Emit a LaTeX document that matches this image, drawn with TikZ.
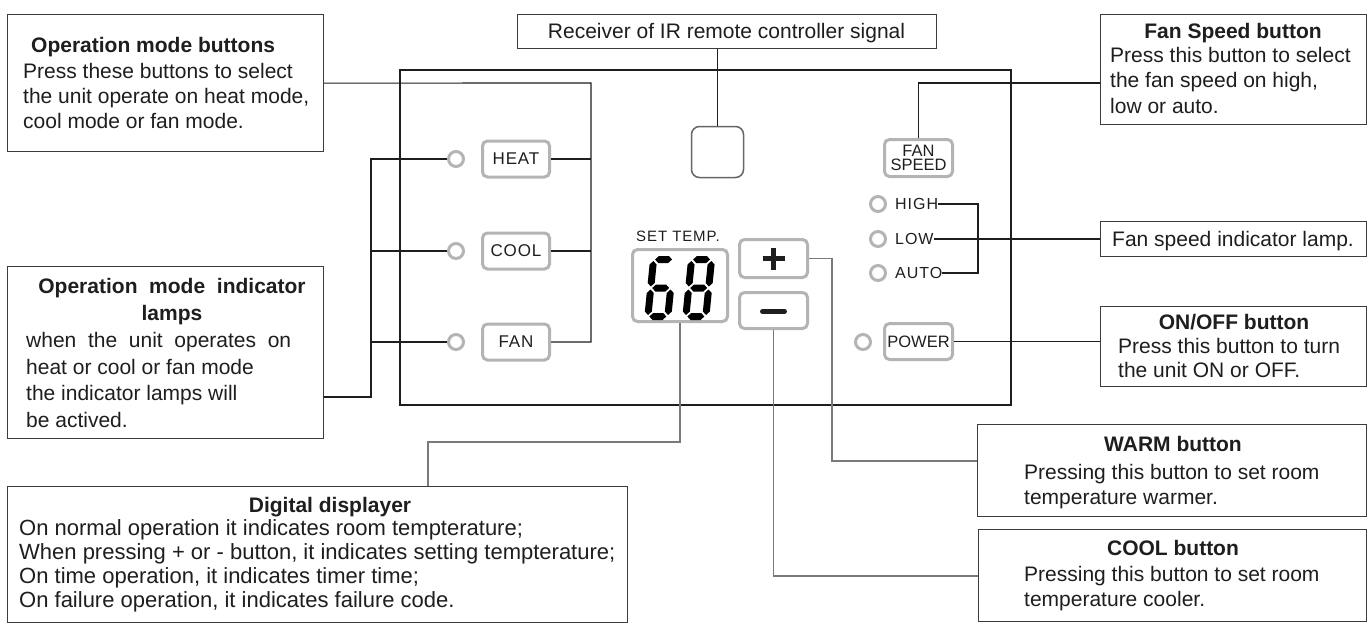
\documentclass[tikz,border=0pt]{standalone}
\usepackage{fontspec}
\setmainfont{Liberation Sans}
\usetikzlibrary{calc}
\definecolor{ink}{HTML}{1E1E1E}
\definecolor{boxline}{HTML}{3C3C3C}
\definecolor{btngray}{HTML}{B4B4B4}
\definecolor{leadgray}{HTML}{7A7A7A}
\definecolor{irgray}{HTML}{666666}
\newcommand\hsegm[3]{\fill[black] (#1,#3) -- ({#1+3.5},{#3-3.5}) -- ({#2-3.5},{#3-3.5}) -- (#2,#3) -- ({#2-3.5},{#3+3.5}) -- ({#1+3.5},{#3+3.5}) -- cycle;}
\newcommand\vsegm[3]{\fill[black] (#1,#2) -- ({#1+3.5},{#2+3.5}) -- ({#1+3.5},{#3-3.5}) -- (#1,#3) -- ({#1-3.5},{#3-3.5}) -- ({#1-3.5},{#2+3.5}) -- cycle;}
\newcommand\sgA{\hsegm{5}{22}{-60.5}}
\newcommand\sgG{\hsegm{5}{22}{-32}}
\newcommand\sgD{\hsegm{5}{22}{-3.5}}
\newcommand\sgF{\vsegm{3.5}{-59}{-33.5}}
\newcommand\sgE{\vsegm{3.5}{-30.5}{-5}}
\newcommand\sgB{\vsegm{23.5}{-59}{-33.5}}
\newcommand\sgC{\vsegm{23.5}{-30.5}{-5}}
\begin{document}
\begin{tikzpicture}[x=1pt,y=-1pt,
  tbox/.style={draw=boxline, line width=1.2pt, inner sep=0, anchor=north west},
  txt/.style={inner sep=0, text=ink, font=\fontsize{21}{25}\selectfont},
  ttl/.style={inner sep=0, text=ink, font=\fontsize{21}{25}\selectfont\bfseries},
  dtxt/.style={inner sep=0, text=ink, font=\fontsize{22}{25}\selectfont},
  btn/.style={draw=btngray, line width=3pt, rounded corners=5pt, inner sep=0, text=ink},
  lamp/.style={circle, draw=btngray, line width=3pt, minimum size=15pt, inner sep=0},
  wire/.style={draw=ink, line width=1.1pt},
  lead/.style={draw=leadgray, line width=1.1pt},
]
\fill[white] (0,0) rectangle (1369,624);
\useasboundingbox (0,0) rectangle (1369,624);

% ---------- text boxes ----------
\node[tbox, minimum width=316pt, minimum height=137pt] (opbtn) at (7,14) {};
\node[ttl, anchor=base west] (opbtnT) at (31,52.5) {Operation mode buttons};
\node[txt, anchor=base west] (opbtn1) at (23,78.5) {Press these buttons to select};
\node[txt, anchor=base west] (opbtn2) at (23,103.5) {the unit operate on heat mode,};
\node[txt, anchor=base west] (opbtn3) at (23,128.5) {cool mode or fan mode.};

\node[tbox, minimum width=316pt, minimum height=172pt] (opind) at (7,266) {};
\node[ttl, anchor=base] (opindT) at (172,293.5) {Operation\ \ mode\ \ indicator};
\node[ttl, anchor=base] (opindT2) at (172,320.5) {lamps};
\node[txt, anchor=base west] (opind1) at (26,347.5) {when\ \ the\ \ unit\ \ operates\ \ on};
\node[txt, anchor=base west] (opind2) at (26,374.5) {heat or cool or fan mode};
\node[txt, anchor=base west] (opind3) at (26,400.5) {the indicator lamps will};
\node[txt, anchor=base west] (opind4) at (26,427.5) {be actived.};

\node[tbox, minimum width=419pt, minimum height=34pt] (recv) at (517,14) {};
\node[txt, anchor=base] (recvT) at (726.5,38.5) {Receiver of IR remote controller signal};

\node[tbox, minimum width=266pt, minimum height=110pt] (fanbox) at (1100,14) {};
\node[ttl, anchor=base] (fanboxT) at (1233,38.5) {Fan Speed button};
\node[txt, anchor=base west] (fanbox1) at (1110,62.5) {Press this button to select};
\node[txt, anchor=base west] (fanbox2) at (1110,87.5) {the fan speed on high,};
\node[txt, anchor=base west] (fanbox3) at (1110,113.5) {low or auto.};

\node[tbox, minimum width=266pt, minimum height=35pt] (fanind) at (1100,221) {};
\node[txt, anchor=base west] (fanindT) at (1112,246) {Fan speed indicator lamp.};

\node[tbox, minimum width=266pt, minimum height=80pt] (onoff) at (1100,306) {};
\node[ttl, anchor=base] (onoffT) at (1234,329.5) {ON/OFF button};
\node[txt, anchor=base west] (onoff1) at (1118,353.5) {Press this button to turn};
\node[txt, anchor=base west] (onoff2) at (1118,377.5) {the unit ON or OFF.};

\node[tbox, minimum width=389pt, minimum height=92pt] (warm) at (977,424) {};
\node[ttl, anchor=base] (warmT) at (1173,451.5) {WARM button};
\node[txt, anchor=base west] (warm1) at (1024,479.5) {Pressing this button to set room};
\node[txt, anchor=base west] (warm2) at (1024,504.5) {temperature warmer.};

\node[tbox, minimum width=388pt, minimum height=92pt] (coolb) at (978,529) {};
\node[ttl, anchor=base] (coolbT) at (1173,555.5) {COOL button};
\node[txt, anchor=base west] (coolb1) at (1024,581.5) {Pressing this button to set room};
\node[txt, anchor=base west] (coolb2) at (1024,606.5) {temperature cooler.};

\node[tbox, minimum width=620pt, minimum height=136pt] (digit) at (7,486) {};
\node[ttl, anchor=base] (digitT) at (330,512.5) {Digital displayer};
\node[dtxt, anchor=base west] (digit1) at (19,535.5) {On normal operation it indicates room tempterature;};
\node[dtxt, anchor=base west] (digit2) at (19,559.5) {When pressing + or - button, it indicates setting tempterature;};
\node[dtxt, anchor=base west] (digit3) at (19,583.5) {On time operation, it indicates timer time;};
\node[dtxt, anchor=base west] (digit4) at (19,607.5) {On failure operation, it indicates failure code.};

% ---------- control panel ----------
\node[draw=ink, line width=1.6pt, minimum width=611pt, minimum height=335pt, anchor=north west, inner sep=0] (panel) at (399,69) {};

\node[btn, minimum width=67pt, minimum height=36pt] (heat) at (516,159) {\fontsize{17}{17}\selectfont\addfontfeatures{LetterSpace=5}HEAT};
\node[btn, minimum width=67pt, minimum height=36pt] (cool) at (516,251) {\fontsize{17}{17}\selectfont\addfontfeatures{LetterSpace=5}COOL};
\node[btn, minimum width=67pt, minimum height=36pt] (fan) at (516,342) {\fontsize{17}{17}\selectfont\addfontfeatures{LetterSpace=5}FAN};
\node[lamp] (lh) at (456,159) {};
\node[lamp] (lc) at (456,251) {};
\node[lamp] (lf) at (456,342) {};

\node[draw=irgray, line width=1.5pt, rounded corners=8pt, minimum width=52pt, minimum height=51pt, inner sep=0] (ir) at (717.5,152) {};

\node[inner sep=0, text=ink, font=\fontsize{15}{15}\selectfont\addfontfeatures{LetterSpace=6}] (settemp) at (678,236) {SET TEMP.};
\node[btn, minimum width=95pt, minimum height=72pt] (disp) at (680,285.5) {};
\begin{scope}[shift={(644,320)}, xslant=0.1]
  \sgA \sgF \sgG \sgE \sgD \sgC
\end{scope}
\begin{scope}[shift={(682,320)}, xslant=0.1]
  \sgA \sgB \sgC \sgD \sgE \sgF \sgG
\end{scope}

\node[btn, minimum width=68pt, minimum height=38pt] (plus) at (773.5,258.5) {};
\draw[ink, line width=4.5pt] ($(plus.center)+(-11,0)$) -- ($(plus.center)+(11,0)$);
\draw[ink, line width=4.5pt] ($(plus.center)+(0,-11)$) -- ($(plus.center)+(0,11)$);
\node[btn, minimum width=68pt, minimum height=36pt] (minus) at (773.5,310.5) {};
\draw[ink, line width=5pt, line cap=round] ($(minus.center)+(-11,1)$) -- ($(minus.center)+(11,1)$);

\node[btn, minimum width=68pt, minimum height=37pt, align=center, font=\fontsize{16.5}{14}\selectfont] (fanspd) at (918.5,158) {FAN\\SPEED};
\node[lamp] (lhi) at (878,204) {};
\node[lamp] (llo) at (878,239) {};
\node[lamp] (lau) at (878,273) {};
\node[inner sep=0, text=ink, anchor=west, font=\fontsize{16}{16}\selectfont\addfontfeatures{LetterSpace=6}] (hi) at (895,204) {HIGH};
\node[inner sep=0, text=ink, anchor=west, font=\fontsize{16}{16}\selectfont\addfontfeatures{LetterSpace=6}] (lo) at (895,239) {LOW};
\node[inner sep=0, text=ink, anchor=west, font=\fontsize{16}{16}\selectfont\addfontfeatures{LetterSpace=6}] (au) at (895,273) {AUTO};

\node[btn, minimum width=68pt, minimum height=36pt, font=\fontsize{16.5}{16.5}\selectfont] (power) at (918.5,341.5) {POWER};
\node[lamp] (lpow) at (863,342) {};

% ---------- connectors ----------
\coordinate (jb) at (591,83);
\draw[wire] (opbtn.east) -- (jb) |- (fan.east);
\draw[wire] (heat.east) -- (heat.east -| jb);
\draw[wire] (cool.east) -- (cool.east -| jb);

\coordinate (ji) at (371,397);
\draw[wire] (opind.east |- ji) -- (ji) |- (lh.west);
\draw[wire] (lc.west) -- (lc.west -| ji);
\draw[wire] (lf.west) -- (lf.west -| ji);

\draw[wire] (ir.north) -- (ir.north |- recv.south);

\coordinate (jfy) at (0,83);
\draw[wire] (fanspd.north) |- (fanbox.west |- jfy);

\coordinate (jh) at (978,204);
\draw[wire] (hi.east) -- (jh) |- (au.east);
\draw[wire] (lo.east) -- (lo.east -| fanind.west);

\draw[wire] (power.east) -- (power.east -| onoff.west);

\coordinate (jp) at (832,461);
\draw[lead] (plus.east) -| (jp) -- (jp -| warm.west);
\coordinate (jmy) at (0,576);
\draw[lead] (minus.south) |- (coolb.west |- jmy);
\coordinate (jd) at (428,442);
\draw[lead] (disp.south) |- (jd) -- (jd |- digit.north);
\end{tikzpicture}
\end{document}
